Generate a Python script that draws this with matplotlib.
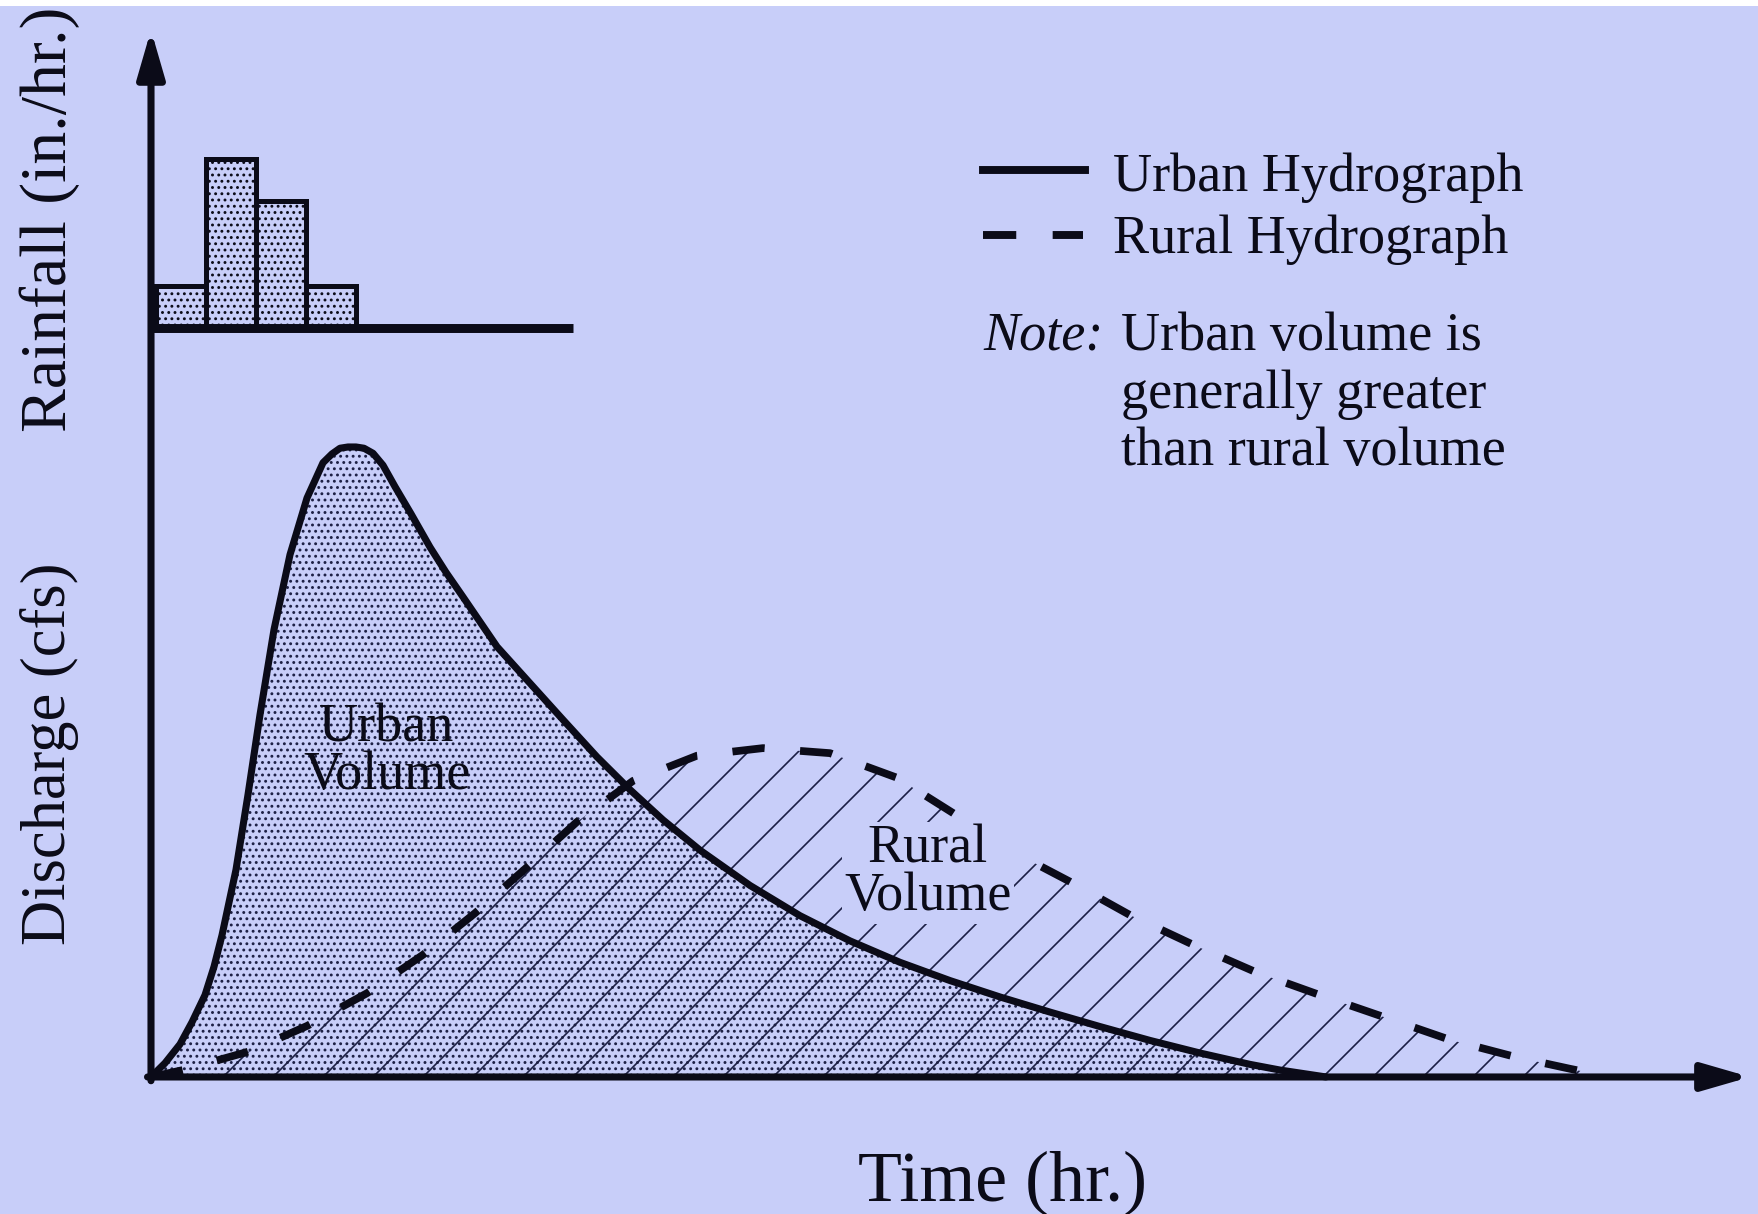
import matplotlib.pyplot as plt
from matplotlib.lines import Line2D
from matplotlib.patches import Rectangle

# hydrograph values (time in hr, discharge in cfs, relative units)
urban_time = [0.00, 0.14, 0.29, 0.41, 0.54, 0.63, 0.71, 0.85, 0.97, 1.09, 1.23, 1.39,
              1.56, 1.72, 1.81, 1.89, 1.97, 2.05, 2.13, 2.22, 2.32, 2.44, 2.60, 2.79,
              2.95, 3.12, 3.46, 3.79, 4.12, 4.46, 4.79, 5.12, 5.49, 5.99, 6.49, 6.99,
              7.49, 7.99, 8.49, 8.99, 9.49, 9.99, 10.49, 10.99, 11.29, 11.75]
urban_flow = [0.0, 2.2, 5.2, 8.7, 13.0, 17.5, 22.5, 32.9, 44.8, 57.5, 71.0, 82.9,
              91.9, 97.5, 98.9, 99.8, 100.0, 100.0, 99.8, 99.0, 97.1, 93.7, 89.4, 84.1,
              80.1, 76.2, 68.3, 62.5, 56.7, 50.8, 45.6, 40.8, 36.0, 30.4, 25.6, 21.6,
              18.2, 15.3, 12.7, 10.3, 8.0, 5.8, 3.8, 2.0, 1.1, 0.0]

rural_time = [0.00, 0.32, 0.99, 1.56, 2.16, 2.72, 3.24, 3.76, 4.26, 4.82, 5.46, 6.12,
              6.79, 7.46, 8.02, 8.59, 9.19, 9.79, 10.42, 11.04, 11.69, 12.35, 12.99,
              13.64, 14.19, 14.59]
rural_flow = [0.0, 1.1, 4.1, 8.1, 13.3, 19.4, 26.0, 33.3, 40.5, 47.0, 51.0, 52.2,
              51.4, 47.5, 41.9, 36.0, 31.0, 25.7, 21.0, 16.7, 13.0, 9.4, 5.9,
              3.2, 1.3, 0.0]

# rainfall hyetograph (in./hr.)
rain_start = [0.05, 0.55, 1.05, 1.55]
rain_depth = [0.25, 1.00, 0.75, 0.25]

bg = '#c8cef9'
ink = '#0b0b18'
dots = '#1c1f44'

W, H, DPI = 1758, 1214, 150
plt.rcParams['font.family'] = 'Liberation Serif'
plt.rcParams['hatch.linewidth'] = 0.8


def fx(px):
    return px / W


def fy(py):
    return 1 - py / H


fig = plt.figure(figsize=(W / DPI, H / DPI), dpi=DPI, facecolor=bg)
fig.add_artist(Rectangle((0, fy(6)), 1, 6 / H, transform=fig.transFigure,
                         facecolor='white', edgecolor='none'))

# main discharge axes, spans the whole figure
ax = fig.add_axes([0, 0, 1, 1])
ax.set_xlim(-1.51, 16.07)
ax.set_ylim(-21.75, 170.95)
ax.axis('off')

ax.fill_between(urban_time, urban_flow, 0, facecolor='none', edgecolor=dots,
                hatch='....', linewidth=0)
ax.fill_between(rural_time, rural_flow, 0, facecolor='none', edgecolor=dots,
                hatch='/', linewidth=0)
ax.plot(urban_time, urban_flow, color=ink, lw=3.4, solid_joinstyle='round',
        solid_capstyle='round')
ax.plot(rural_time, rural_flow, color=ink, lw=3.7, linestyle=(0, (4.2, 4.6)),
        dash_capstyle='butt')

arrow = dict(arrowstyle='-|>,head_length=1.9,head_width=0.55', lw=3.4, color=ink,
             shrinkA=0, shrinkB=0, mutation_scale=10)
ax.annotate('', xy=(0, 166.2), xytext=(0, -0.6), arrowprops=arrow)
ax.annotate('', xy=(15.99, 0), xytext=(-0.035, 0), arrowprops=arrow)

# rainfall axes on top, same time scale
axr = fig.add_axes([0, 0, 1, 1])
axr.set_xlim(-1.51, 16.07)
axr.set_ylim(-5.243, 1.941)
axr.axis('off')
axr.patch.set_visible(False)
axr.bar(rain_start, rain_depth, width=0.5, align='edge', facecolor='none',
        edgecolor=ink, hatch='....', linewidth=2.4)
axr.plot([0, 4.22], [0, 0], color=ink, lw=4.3, solid_capstyle='butt')

# legend drawn by hand
fig.add_artist(Line2D([fx(983), fx(1085)], [fy(170), fy(170)], transform=fig.transFigure,
                      color=ink, lw=3.8))
fig.add_artist(Line2D([fx(983), fx(1083)], [fy(235), fy(235)], transform=fig.transFigure,
                      color=ink, lw=3.8, linestyle=(0, (4.2, 4.6)), dash_capstyle='butt'))

txt = dict(color=ink, fontsize=26)
fig.text(fx(1113), fy(191), 'Urban Hydrograph', va='baseline', **txt)
fig.text(fx(1113), fy(253), 'Rural Hydrograph', va='baseline', **txt)
fig.text(fx(983), fy(350), 'Note:', va='baseline', style='italic', **txt)
fig.text(fx(1121), fy(350), 'Urban volume is', va='baseline', **txt)
fig.text(fx(1121), fy(408), 'generally greater', va='baseline', **txt)
fig.text(fx(1121), fy(465), 'than rural volume', va='baseline', **txt)

fig.text(fx(387), fy(752), 'Urban\nVolume', ha='center', va='center',
         linespacing=0.92, **txt)
fig.text(fx(928), fy(873), 'Rural\nVolume', ha='center', va='center',
         linespacing=0.92, bbox=dict(facecolor=bg, edgecolor='none', pad=1), **txt)

fig.text(fx(50), fy(219), 'Rainfall (in./hr.)', rotation=90, ha='center', va='center',
         color=ink, fontsize=31.5)
fig.text(fx(50), fy(754), 'Discharge (cfs)', rotation=90, ha='center', va='center',
         color=ink, fontsize=30)
fig.text(fx(1002), fy(1183), 'Time (hr.)', ha='center', va='center', color=ink,
         fontsize=34.5)

fig.savefig('out.png', dpi=DPI, facecolor=bg)
